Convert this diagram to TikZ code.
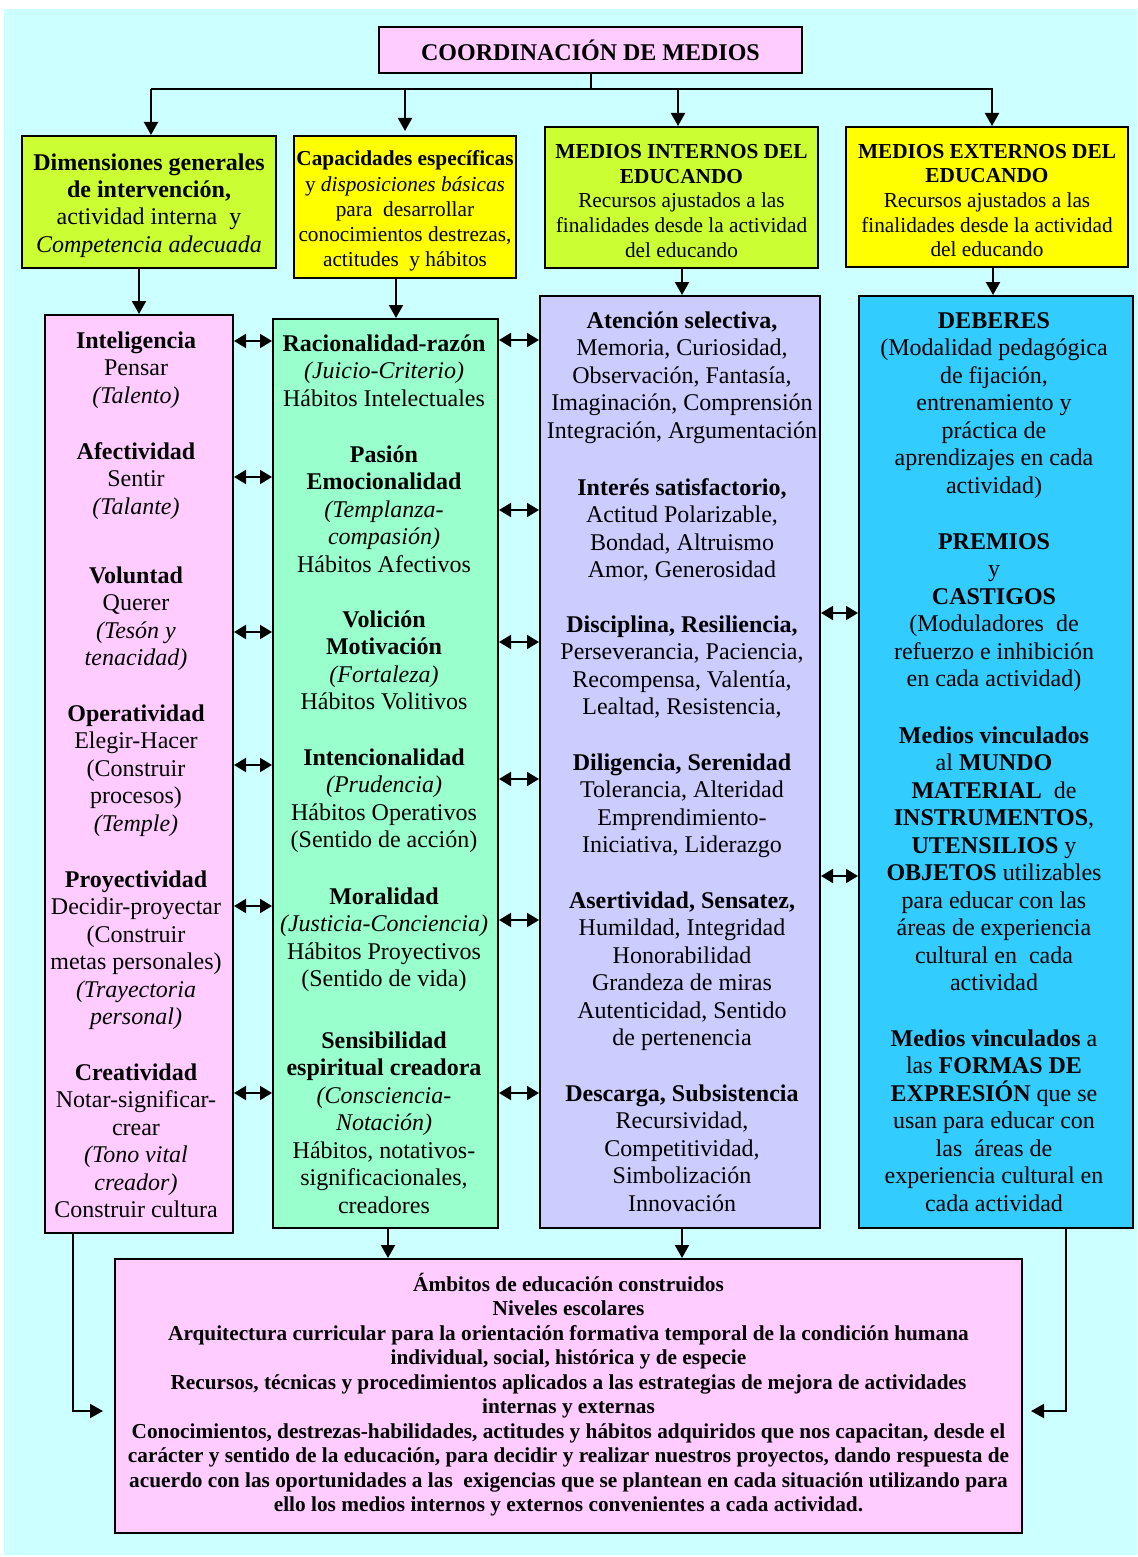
\documentclass[tikz,border=0pt]{standalone}
\usepackage{fontspec}
\setmainfont{Liberation Serif}
\usetikzlibrary{arrows.meta,calc}
\definecolor{bgc}{HTML}{CCFFFF}
\definecolor{pinkc}{HTML}{FFCCFF}
\definecolor{limec}{HTML}{CCFF33}
\definecolor{yelc}{HTML}{FFFF00}
\definecolor{greenc}{HTML}{99FFCC}
\definecolor{lavc}{HTML}{CCCCFF}
\definecolor{bluec}{HTML}{33CCFF}
\tikzset{
  box/.style={draw=black, line width=2pt, inner sep=0pt, align=center},
  txt/.style={inner sep=0pt, align=center},
  grp/.style={anchor=north, align=center, inner sep=0pt, font=\fontsize{24}{27.5}\selectfont},
  arr/.style={-{Triangle[length=13pt,width=14pt]}, line width=2pt},
  dbl/.style={{Triangle[length=12pt,width=14pt]}-{Triangle[length=12pt,width=14pt]}, line width=2pt},
  ln/.style={line width=2pt},
  fbig/.style={font=\fontsize{24}{27.3}\selectfont},
  fsmall/.style={font=\fontsize{21.3}{24.6}\selectfont}
}
\begin{document}
\begin{tikzpicture}[x=1pt,y=-1pt]
\useasboundingbox (0,0) rectangle (1137,1557);
\fill[bgc] (4,9) rectangle (1137,1555);

% title and top boxes
\node[box, fill=pinkc, minimum width=423pt, minimum height=46pt, fbig] (title) at (590.5,50) {\textbf{COORDINACIÓN DE MEDIOS}};
\node[box, fill=limec, minimum width=254pt, minimum height=132pt] (box1) at (149,202) {};
\node[txt, fbig] (t1) at ([yshift=-3.5pt]box1.center)
  {\textbf{Dimensiones generales}\\\textbf{de intervención,}\\actividad interna~ y\\\textit{Competencia adecuada}};
\node[box, fill=yelc, minimum width=222pt, minimum height=142pt] (box2) at (405,207) {};
\node[txt, font=\fontsize{21.3}{25.2}\selectfont] (t2) at ([yshift=-4pt]box2.center)
  {\textbf{Capacidades específicas}\\y \textit{disposiciones básicas}\\para~ desarrollar\\conocimientos destrezas,\\actitudes~ y hábitos};
\node[box, fill=limec, minimum width=273pt, minimum height=141pt] (box3) at (681.5,197.5) {};
\node[txt, fsmall] (t3) at ([yshift=-3.5pt]box3.center)
  {\textbf{MEDIOS INTERNOS DEL}\\\textbf{EDUCANDO}\\Recursos ajustados a las\\finalidades desde la actividad\\del educando};
\node[box, fill=yelc, minimum width=282pt, minimum height=140pt] (box4) at (987,197) {};
\node[txt, fsmall] (t4) at ([yshift=-3.5pt]box4.center)
  {\textbf{MEDIOS EXTERNOS DEL}\\\textbf{EDUCANDO}\\Recursos ajustados a las\\finalidades desde la actividad\\del educando};

% columns
\node[box, fill=pinkc, minimum width=188pt, minimum height=918pt] (colA) at (139,774) {};
\node[box, fill=greenc, minimum width=225pt, minimum height=909pt] (colB) at (385.5,773.5) {};
\node[box, fill=lavc, minimum width=280pt, minimum height=932pt] (colC) at (680,762) {};
\node[box, fill=bluec, minimum width=274pt, minimum height=932pt] (colD) at (996,762) {};

% bottom box
\node[box, fill=pinkc, minimum width=907pt, minimum height=274pt, font=\fontsize{21.3}{24.5}\selectfont\bfseries] (bottom) at (568.5,1396) {};
\node[txt, font=\fontsize{21.3}{24.5}\selectfont\bfseries] (tb) at ([yshift=1.5pt]bottom.center)
  {Ámbitos de educación construidos\\Niveles escolares\\Arquitectura curricular para la orientación formativa temporal de la condición humana\\individual, social, histórica y de especie\\Recursos, técnicas y procedimientos aplicados a las estrategias de mejora de actividades\\internas y externas\\Conocimientos, destrezas-habilidades, actitudes y hábitos adquiridos que nos capacitan, desde el\\carácter y sentido de la educación, para decidir y realizar nuestros proyectos, dando respuesta de\\acuerdo con las oportunidades a las~ exigencias que se plantean en cada situación utilizando para\\ello los medios internos y externos convenientes a cada actividad.};

% column A texts
\node[grp] (a1) at (136,329) {\strut\textbf{Inteligencia}\\Pensar\\\textit{(Talento)}};
\node[grp] (a2) at (136,440) {\strut\textbf{Afectividad}\\Sentir\\\textit{(Talante)}};
\node[grp] (a3) at (136,564) {\strut\textbf{Voluntad}\\Querer\\\textit{(Tesón y}\\\textit{tenacidad)}};
\node[grp] (a4) at (136,702) {\strut\textbf{Operatividad}\\Elegir-Hacer\\(Construir\\procesos)\\\textit{(Temple)}};
\node[grp] (a5) at (136,868) {\strut\textbf{Proyectividad}\\Decidir-proyectar\\(Construir\\metas personales)\\\textit{(Trayectoria}\\\textit{personal)}};
\node[grp] (a6) at (136,1061) {\strut\textbf{Creatividad}\\Notar-significar-\\crear\\\textit{(Tono vital}\\\textit{creador)}\\Construir cultura};

% column B texts
\node[grp] (b1) at (384,332) {\strut\textbf{Racionalidad-razón}\\\textit{(Juicio-Criterio)}\\Hábitos Intelectuales};
\node[grp] (b2) at (384,443) {\strut\textbf{Pasión}\\\textbf{Emocionalidad}\\\textit{(Templanza-}\\\textit{compasión)}\\Hábitos Afectivos};
\node[grp] (b3) at (384,608) {\strut\textbf{Volición}\\\textbf{Motivación}\\\textit{(Fortaleza)}\\Hábitos Volitivos};
\node[grp] (b4) at (384,746) {\strut\textbf{Intencionalidad}\\\textit{(Prudencia)}\\Hábitos Operativos\\(Sentido de acción)};
\node[grp] (b5) at (384,885) {\strut\textbf{Moralidad}\\\textit{(Justicia-Conciencia)}\\Hábitos Proyectivos\\(Sentido de vida)};
\node[grp] (b6) at (384,1029) {\strut\textbf{Sensibilidad}\\\textbf{espiritual creadora}\\\textit{(Consciencia-}\\\textit{Notación)}\\Hábitos, notativos-\\significacionales,\\creadores};

% column C texts
\node[grp] (c1) at (682,309) {\strut\textbf{Atención selectiva,}\\Memoria, Curiosidad,\\Observación, Fantasía,\\Imaginación, Comprensión\\Integración, Argumentación};
\node[grp] (c2) at (682,476) {\strut\textbf{Interés satisfactorio,}\\Actitud Polarizable,\\Bondad, Altruismo\\Amor, Generosidad};
\node[grp] (c3) at (682,613) {\strut\textbf{Disciplina, Resiliencia,}\\Perseverancia, Paciencia,\\Recompensa, Valentía,\\Lealtad, Resistencia,};
\node[grp] (c4) at (682,751) {\strut\textbf{Diligencia, Serenidad}\\Tolerancia, Alteridad\\Emprendimiento-\\Iniciativa, Liderazgo};
\node[grp] (c5) at (682,889) {\strut\textbf{Asertividad, Sensatez,}\\Humildad, Integridad\\Honorabilidad\\Grandeza de miras\\Autenticidad, Sentido\\de pertenencia};
\node[grp] (c6) at (682,1082) {\strut\textbf{Descarga, Subsistencia}\\Recursividad,\\Competitividad,\\Simbolización\\Innovación};

% column D texts
\node[grp] (d1) at (994,309) {\strut\textbf{DEBERES}\\(Modalidad pedagógica\\de fijación,\\entrenamiento y\\práctica de\\aprendizajes en cada\\actividad)};
\node[grp] (d2) at (994,530) {\strut\textbf{PREMIOS}\\y\\\textbf{CASTIGOS}\\(Moduladores~ de\\refuerzo e inhibición\\en cada actividad)};
\node[grp] (d3) at (994,724) {\strut\textbf{Medios vinculados}\\al \textbf{MUNDO}\\\textbf{MATERIAL}~ de\\\textbf{INSTRUMENTOS},\\\textbf{UTENSILIOS} y\\\textbf{OBJETOS} utilizables\\para educar con las\\áreas de experiencia\\cultural en~ cada\\actividad};
\node[grp] (d4) at (994,1027) {\strut\textbf{Medios vinculados} a\\las \textbf{FORMAS DE}\\\textbf{EXPRESIÓN} que se\\usan para educar con\\las~ áreas de\\experiencia cultural en\\cada actividad};

% top connectors
\coordinate (bus) at (0,89);
\draw[ln] (title.south) -- (title.south |- bus);
\draw[ln] (151,89) -- (993,89);
\draw[arr] ([xshift=2pt]box1.north |- bus) -- ([xshift=2pt]box1.north);
\draw[arr] (box2.north |- bus) -- ([yshift=4pt]box2.north);
\draw[arr] ([xshift=-3.5pt]box3.north |- bus) -- ([xshift=-3.5pt]box3.north);
\draw[arr] ([xshift=5pt]box4.north |- bus) -- ([xshift=5pt]box4.north);

% top boxes to columns
\draw[arr] (colA.north |- box1.south) -- (colA.north);
\draw[arr] ([xshift=10.5pt]colB.north |- box2.south) -- ([xshift=10.5pt]colB.north);
\draw[arr] ([xshift=2pt]colC.north |- box3.south) -- ([xshift=2pt]colC.north);
\draw[arr] ([xshift=-3pt]colD.north |- box4.south) -- ([xshift=-3pt]colD.north);

% double arrows A-B
\foreach \yy in {341,477,632,765,906,1093}
  \draw[dbl] (colA.east |- 0,\yy) -- (colB.west |- 0,\yy);
% double arrows B-C
\foreach \yy in {340,510,642,779,920,1093}
  \draw[dbl] (colB.east |- 0,\yy) -- (colC.west |- 0,\yy);
% double arrows C-D
\foreach \yy in {613,876}
  \draw[dbl] (colC.east |- 0,\yy) -- (colD.west |- 0,\yy);

% columns to bottom box
\draw[arr] ([xshift=2.5pt]colB.south) -- ([xshift=2.5pt]colB.south |- bottom.north);
\draw[arr] ([xshift=2pt]colC.south) -- ([xshift=2pt]colC.south |- bottom.north);
\coordinate (lin) at ([xshift=-11pt]bottom.west |- 0,1411);
\coordinate (rin) at ([xshift=8pt]bottom.east |- 0,1411);
\draw[arr] (colA.south -| 73,0) |- (lin);
\draw[arr] (colD.south -| 1066,0) |- (rin);
\end{tikzpicture}
\end{document}
